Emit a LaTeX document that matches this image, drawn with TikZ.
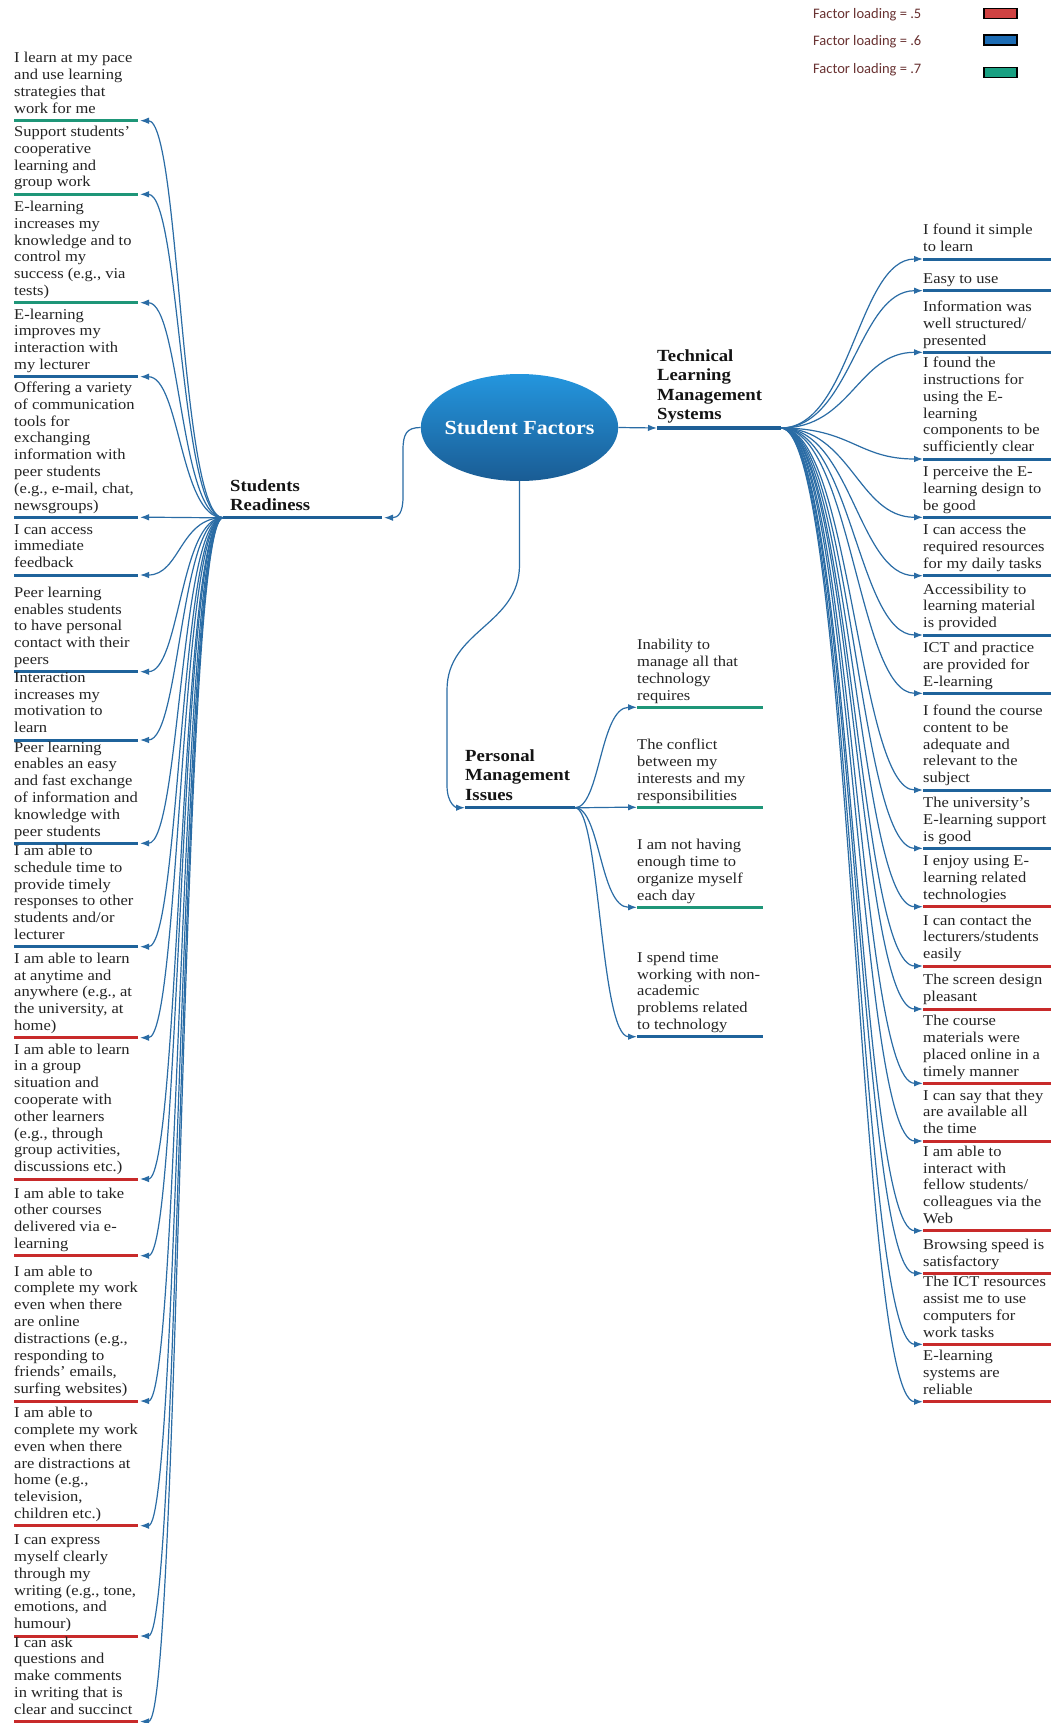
\documentclass[tikz,border=0pt]{standalone}
\usepackage{fontspec}
\setmainfont{Liberation Serif}[FakeStretch=1.1]
\newfontfamily\legendfont{Carlito}
\usetikzlibrary{arrows.meta,shapes.geometric}

\definecolor{connblue}{RGB}{42,108,165}
\definecolor{hblue}{RGB}{30,95,150}
\definecolor{ublue}{RGB}{31,99,155}
\definecolor{ugreen}{RGB}{30,150,120}
\definecolor{ured}{RGB}{200,42,42}
\definecolor{sred}{RGB}{207,66,66}
\definecolor{sblue}{RGB}{28,108,180}
\definecolor{sgreen}{RGB}{25,160,130}
\definecolor{txt}{RGB}{35,35,35}
\definecolor{htxt}{RGB}{20,20,20}
\definecolor{legtxt}{RGB}{105,50,50}
\definecolor{sftop}{RGB}{36,150,222}
\definecolor{sfbot}{RGB}{26,92,148}

\tikzset{
  conn/.style={draw=connblue, line width=1.2pt, -{Latex[length=9pt,width=6.5pt]}},
  uline/.style={line width=3pt},
  hline/.style={draw=hblue, line width=3.5pt},
  itemtext/.style={anchor=base west, inner sep=0pt, text=txt, font=\fontsize{15}{16.8}\selectfont},
  heading/.style={anchor=base west, inner sep=0pt, text=htxt, font=\bfseries\fontsize{17}{19.5}\selectfont},
  legend/.style={anchor=base west, inner sep=0pt, text=legtxt, font=\legendfont\fontsize{14.5}{17}\selectfont},
  swatch/.style={draw=black, line width=1.2pt, minimum width=33pt, minimum height=10pt, inner sep=0pt},
}

% stacked lines whose baseline is the last line
\newcommand\txtlines[1]{\begin{tabular}[b]{@{}l@{}}#1\end{tabular}}

% left branch item: name, underline y, colour, text
\newcommand\LItem[4]{%
  \draw[conn] (srhub) .. controls +(-43,0) and +(40,0) .. (#1-tip);
  \node[itemtext] (#1) at (14,#2-7.3) {\txtlines{#4}};
  \draw[uline,draw=#3] (14,#2) -- (138,#2);
}
% right branch item
\newcommand\RItem[4]{%
  \coordinate (#1-tip) at (923,#2);
  \draw[conn] (tlhub) .. controls +(70,0) and +(-65,0) .. (#1-tip);
  \node[itemtext] (#1) at (923,#2-7.3) {\txtlines{#4}};
  \draw[uline,draw=#3] (923,#2) -- (1051,#2);
}
% middle branch item
\newcommand\PItem[4]{%
  \coordinate (#1-tip) at (637,#2);
  \draw[conn] (pmhub) .. controls +(25,0) and +(-37,0) .. (#1-tip);
  \node[itemtext] (#1) at (637,#2-7.3) {\txtlines{#4}};
  \draw[uline,draw=#3] (637,#2) -- (763,#2);
}

\begin{document}
\begin{tikzpicture}[x=1pt,y=-1pt]
\fill[white] (0,0) rectangle (1053,1723);
\path[use as bounding box] (0,0) rectangle (1053,1723);

% legend
\node[legend] (lg5) at (813,18.3) {Factor loading = .5};
\node[legend] (lg6) at (813,46) {Factor loading = .6};
\node[legend] (lg7) at (813,74) {Factor loading = .7};
\node[swatch, fill=sred] (sw5) at (1000.5,13.3) {};
\node[swatch, fill=sblue] (sw6) at (1000.5,40) {};
\node[swatch, fill=sgreen] (sw7) at (1000.5,72.7) {};

% central topic
\node[ellipse, minimum width=197.4pt, minimum height=107pt, inner sep=0pt,
      top color=sftop, bottom color=sfbot] (sf) at (519.5,427.5) {};
\node[inner sep=0pt, text=white, font=\bfseries\fontsize{20}{24}\selectfont] (sftext) at (sf.center) {Student Factors};

% main branch headings
\node[heading] (sr) at (230,510.5) {\txtlines{Students\\Readiness}};
\node[heading] (tl) at (657,419.5) {\txtlines{Technical\\Learning\\Management\\Systems}};
\node[heading] (pm) at (465,800) {\txtlines{Personal\\Management\\Issues}};

\coordinate (srhub) at (223,517.7);
\coordinate (srtip) at (384,517.7);
\coordinate (tlhub) at (781,428);
\coordinate (tltip) at (657,428);
\coordinate (pmhub) at (575,807.7);
\coordinate (pmtip) at (465,807.7);
\coordinate (srA) at (403,450);
\coordinate (srB) at (403,497);
\coordinate (pm1) at (519.5,565);
\coordinate (pm2) at (447,690);
\coordinate (pm3) at (447,785);

% connectors from the central topic
\draw[conn] (sf.east) -- (tltip);
\draw[conn] (sf.west) .. controls +(-14,0) and +(0,-16) .. (srA) -- (srB)
            .. controls +(0,16) and +(14,0) .. (srtip);
\draw[conn] (sf.south) -- (pm1) .. controls +(0,60) and +(0,-60) .. (pm2) -- (pm3)
            .. controls +(0,20) and +(-8,0) .. (pmtip);

\draw[hline] (srhub) -- (382,517.7);
\draw[hline] (tltip) -- (tlhub);
\draw[hline] (pmtip) -- (pmhub);

% Students Readiness items
\foreach \n/\y in {la/120.7,lb/194.3,lc/302.7,ld/376.7,le/517.3,lf/575,lg/671.7,lh/740,li/843.3,lj/946.7,lk/1037.7,ll/1179,lm/1255.7,ln/1401,lo/1525.7,lp/1636,lq/1721.5}
  {\coordinate (\n-tip) at (140,\y);}
\LItem{la}{120.7}{ugreen}{I learn at my pace\\and use learning\\strategies that\\work for me}
\LItem{lb}{194.3}{ugreen}{Support students’\\cooperative\\learning and\\group work}
\LItem{lc}{302.7}{ugreen}{E-learning\\increases my\\knowledge and to\\control my\\success (e.g., via\\tests)}
\LItem{ld}{376.7}{ublue}{E-learning\\improves my\\interaction with\\my lecturer}
\LItem{le}{517.3}{ublue}{Offering a variety\\of communication\\tools for\\exchanging\\information with\\peer students\\(e.g., e-mail, chat,\\newsgroups)}
\LItem{lf}{575}{ublue}{I can access\\immediate\\feedback}
\LItem{lg}{671.7}{ublue}{Peer learning\\enables students\\to have personal\\contact with their\\peers}
\LItem{lh}{740}{ublue}{Interaction\\increases my\\motivation to\\learn}
\LItem{li}{843.3}{ublue}{Peer learning\\enables an easy\\and fast exchange\\of information and\\knowledge with\\peer students}
\LItem{lj}{946.7}{ublue}{I am able to\\schedule time to\\provide timely\\responses to other\\students and/or\\lecturer}
\LItem{lk}{1037.7}{ured}{I am able to learn\\at anytime and\\anywhere (e.g., at\\the university, at\\home)}
\LItem{ll}{1179}{ured}{I am able to learn\\in a group\\situation and\\cooperate with\\other learners\\(e.g., through\\group activities,\\discussions etc.)}
\LItem{lm}{1255.7}{ured}{I am able to take\\other courses\\delivered via e-\\learning}
\LItem{ln}{1401}{ured}{I am able to\\complete my work\\even when there\\are online\\distractions (e.g.,\\responding to\\friends’ emails,\\surfing websites)}
\LItem{lo}{1525.7}{ured}{I am able to\\complete my work\\even when there\\are distractions at\\home (e.g.,\\television,\\children etc.)}
\LItem{lp}{1636}{ured}{I can express\\myself clearly\\through my\\writing (e.g., tone,\\emotions, and\\humour)}
\LItem{lq}{1721.5}{ured}{I can ask\\questions and\\make comments\\in writing that is\\clear and succinct}

% Technical Learning Management Systems items
\RItem{ra}{259}{ublue}{I found it simple\\to learn}
\RItem{rb}{290.7}{ublue}{Easy to use}
\RItem{rc}{352.3}{ublue}{Information was\\well structured/\\presented}
\RItem{rd}{459}{ublue}{I found the\\instructions for\\using the E-\\learning\\components to be\\sufficiently clear}
\RItem{re}{517.3}{ublue}{I perceive the E-\\learning design to\\be good}
\RItem{rf}{575.7}{ublue}{I can access the\\required resources\\for my daily tasks}
\RItem{rg}{635}{ublue}{Accessibility to\\learning material\\is provided}
\RItem{rh}{693.3}{ublue}{ICT and practice\\are provided for\\E-learning}
\RItem{ri}{790}{ublue}{I found the course\\content to be\\adequate and\\relevant to the\\subject}
\RItem{rj}{848.3}{ublue}{The university’s\\E-learning support\\is good}
\RItem{rk}{906.7}{ured}{I enjoy using E-\\learning related\\technologies}
\RItem{rl}{966}{ured}{I can contact the\\lecturers/students\\easily}
\RItem{rm}{1009}{ured}{The screen design\\pleasant}
\RItem{rn}{1083.3}{ured}{The course\\materials were\\placed online in a\\timely manner}
\RItem{ro}{1141}{ured}{I can say that they\\are available all\\the time}
\RItem{rp}{1230.7}{ured}{I am able to\\interact with\\fellow students/\\colleagues via the\\Web}
\RItem{rq}{1273.3}{ured}{Browsing speed is\\satisfactory}
\RItem{rr}{1344.3}{ured}{The ICT resources\\assist me to use\\computers for\\work tasks}
\RItem{rs}{1401.7}{ured}{E-learning\\systems are\\reliable}

% Personal Management Issues items
\PItem{pa}{707.3}{ugreen}{Inability to\\manage all that\\technology\\requires}
\PItem{pb}{807.3}{ugreen}{The conflict\\between my\\interests and my\\responsibilities}
\PItem{pc}{907.3}{ugreen}{I am not having\\enough time to\\organize myself\\each day}
\PItem{pd}{1036.7}{ublue}{I spend time\\working with non-\\academic\\problems related\\to technology}
\end{tikzpicture}
\end{document}
